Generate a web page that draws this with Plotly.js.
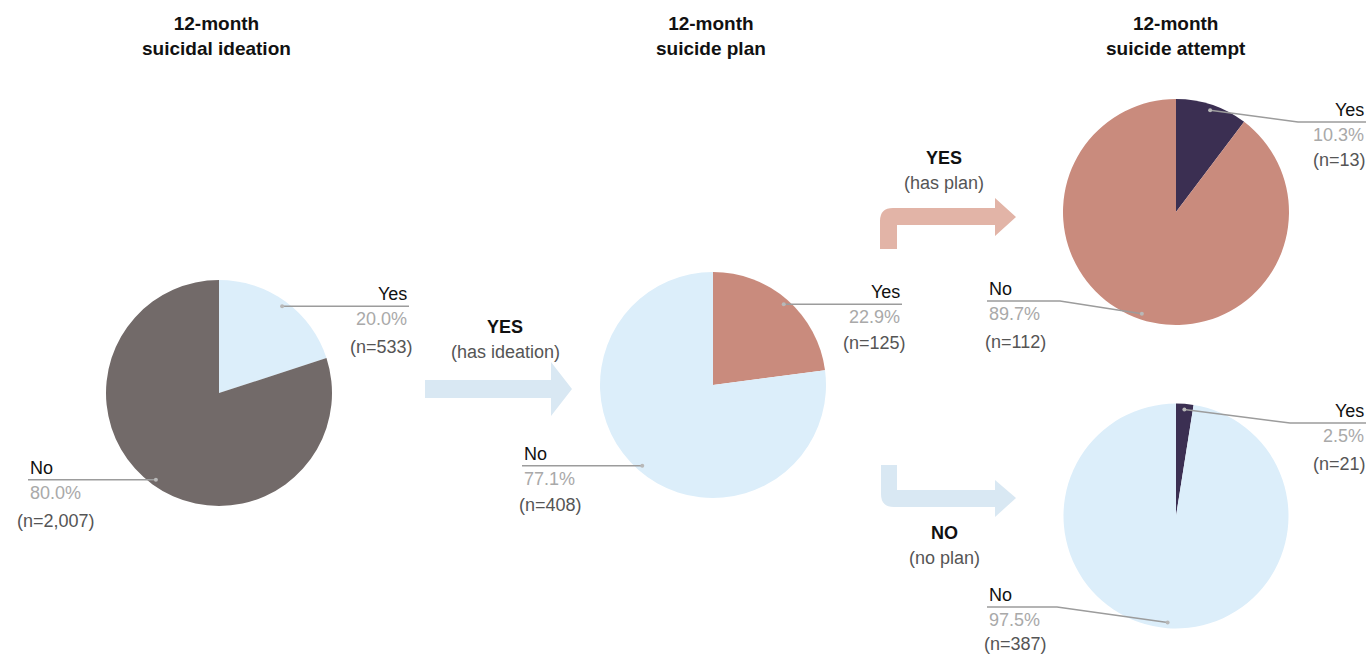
<!DOCTYPE html>
<html>
<head>
<meta charset="utf-8">
<script src="https://cdn.plot.ly/plotly-3.0.1.min.js"></script>
<style>
html,body{margin:0;padding:0;background:#fff;}
#chart{width:1371px;height:656px;}
</style>
</head>
<body>
<div id="chart"></div>
<script>
// ---- data ----
const sliceLabels = ['Yes', 'No'];
const ideationPct = [20.0, 80.0];
const ideationN = [533, 2007];
const planPct = [22.9, 77.1];
const planN = [125, 408];
const attemptWithPlanPct = [10.3, 89.7];
const attemptWithPlanN = [13, 112];
const attemptNoPlanPct = [2.5, 97.5];
const attemptNoPlanN = [21, 387];
const columnTitles = ['12-month<br>suicidal ideation', '12-month<br>suicide plan', '12-month<br>suicide attempt'];
const flowLabels = [['YES', '(has ideation)'], ['YES', '(has plan)'], ['NO', '(no plan)']];

// ---- layout helpers ----
const W = 1371, H = 656;
const px = x => x / W;
const py = y => 1 - y / H;

const C = {
  dark: '#726a69', light: '#dceefa', salmon: '#c98b7d', navy: '#3b2f52',
  arrowBlue: '#d9e8f3', arrowSalmon: '#e2b4a7',
  pct: '#a9a9a9', n: '#555555', lab: '#111111', leader: '#9c9c9c'
};

const pies = [
  {vals: ideationPct, ns: ideationN, cx: 219, cy: 393, r: 113, colors: [C.light, C.dark],
   lab: [
     {side: 'right', x: 409, lineY: 306, nDy: 41},
     {side: 'left', x: 28, lineY: 480, nDy: 41}
   ]},
  {vals: planPct, ns: planN, cx: 713, cy: 385, r: 113, colors: [C.salmon, C.light],
   lab: [
     {side: 'right', x: 902, lineY: 303, nDy: 39},
     {side: 'left', x: 522, lineY: 466, nDy: 39}
   ]},
  {vals: attemptWithPlanPct, ns: attemptWithPlanN, cx: 1176, cy: 212, r: 113, colors: [C.navy, C.salmon],
   lab: [
     {side: 'right', x: 1366, lineY: 122, bend: 1298, nDy: 38},
     {side: 'left', x: 987, lineY: 301, bend: 1060, nDy: 41}
   ]},
  {vals: attemptNoPlanPct, ns: attemptNoPlanN, cx: 1176, cy: 516, r: 112.5, colors: [C.navy, C.light],
   lab: [
     {side: 'right', x: 1366, lineY: 423, bend: 1290, nDy: 41},
     {side: 'left', x: 987, lineY: 607, bend: 1057, nDy: 37}
   ]}
];

const traces = [];
const shapes = [];
const annotations = [];
const FONT = 'Liberation Sans, Arial, sans-serif';

function ann(text, x, y, xanchor, size, color, bold) {
  annotations.push({
    text: bold ? '<b>' + text + '</b>' : text,
    xref: 'paper', yref: 'paper', x: px(x), y: py(y),
    xanchor: xanchor, yanchor: 'middle', showarrow: false,
    font: {family: FONT, size: size, color: color}
  });
}

function polyPath(pts) {
  return pts.map((p, i) => (i ? 'L' : 'M') + px(p[0]) + ',' + py(p[1])).join(' ');
}

pies.forEach(p => {
  traces.push({
    type: 'pie', values: p.vals, labels: sliceLabels, sort: false,
    direction: 'clockwise', rotation: 0, textinfo: 'none', hoverinfo: 'skip',
    marker: {colors: p.colors, line: {width: 0}},
    domain: {x: [px(p.cx - p.r), px(p.cx + p.r)], y: [py(p.cy + p.r), py(p.cy - p.r)]},
    showlegend: false
  });
  const total = p.vals.reduce((a, b) => a + b, 0);
  let start = 0;
  p.vals.forEach((v, i) => {
    const frac = v / total;
    const mid = (start + frac / 2) * 2 * Math.PI;
    start += frac;
    const rr = p.r * 0.95;
    const ax = p.cx + rr * Math.sin(mid);
    const ay = p.cy - rr * Math.cos(mid);
    const L = p.lab[i];
    let pts;
    if (L.bend) pts = [[ax, ay], [L.bend, L.lineY], [L.x, L.lineY]];
    else pts = [[ax, ay], [L.x, ay]];
    shapes.push({type: 'path', xref: 'paper', yref: 'paper', path: polyPath(pts),
      line: {color: C.leader, width: 1.5}});
    shapes.push({type: 'circle', xref: 'paper', yref: 'paper',
      x0: px(ax - 2), x1: px(ax + 2), y0: py(ay + 2), y1: py(ay - 2),
      fillcolor: '#b8b8b8', line: {width: 0}});
    const ly = L.bend ? L.lineY : ay;
    const pctTxt = v.toFixed(1) + '%';
    const nTxt = '(n=' + p.ns[i].toLocaleString('en-US') + ')';
    if (L.side === 'right') {
      ann(sliceLabels[i], L.x, ly - 12, 'right', 18, C.lab);
      ann(pctTxt, L.x, ly + 13, 'right', 18, C.pct);
      ann(nTxt, L.x - 27, ly + L.nDy, 'center', 18, C.n);
    } else {
      ann(sliceLabels[i], L.x, ly - 12, 'left', 18, C.lab);
      ann(pctTxt, L.x, ly + 13, 'left', 18, C.pct);
      ann(nTxt, L.x + 28, ly + L.nDy, 'center', 18, C.n);
    }
  });
});

// column titles
[216, 711, 1176].forEach((x, i) => {
  annotations.push({
    text: '<b>' + columnTitles[i] + '</b>', xref: 'paper', yref: 'paper',
    x: px(x), y: py(36), xanchor: 'center', yanchor: 'middle', showarrow: false,
    align: 'center', font: {family: FONT, size: 19, color: '#111'}
  });
});

// flow arrows
function pathStr(cmds) {
  return cmds.map(c => {
    if (c[0] === 'Z') return 'Z';
    if (c[0] === 'Q') return 'Q' + px(c[1]) + ',' + py(c[2]) + ' ' + px(c[3]) + ',' + py(c[4]);
    return c[0] + px(c[1]) + ',' + py(c[2]);
  }).join(' ');
}
shapes.push({type: 'path', xref: 'paper', yref: 'paper', fillcolor: C.arrowBlue, line: {width: 0},
  path: pathStr([['M', 425, 380], ['L', 551, 380], ['L', 551, 362], ['L', 572, 389], ['L', 551, 416], ['L', 551, 398], ['L', 425, 398], ['Z']])});
shapes.push({type: 'path', xref: 'paper', yref: 'paper', fillcolor: C.arrowSalmon, line: {width: 0},
  path: pathStr([['M', 880, 249], ['L', 880, 221], ['Q', 880, 208, 893, 208], ['L', 995, 208], ['L', 995, 198], ['L', 1016, 217], ['L', 995, 236], ['L', 995, 225], ['L', 897, 225], ['L', 897, 249], ['Z']])});
shapes.push({type: 'path', xref: 'paper', yref: 'paper', fillcolor: C.arrowBlue, line: {width: 0},
  path: pathStr([['M', 881, 465], ['L', 897, 465], ['L', 897, 490], ['L', 995, 490], ['L', 995, 480], ['L', 1016, 498], ['L', 995, 517], ['L', 995, 507], ['L', 894, 507], ['Q', 881, 507, 881, 494], ['Z']])});

// flow labels
[[505, 327], [944, 158], [944, 533]].forEach((pos, i) => {
  ann(flowLabels[i][0], pos[0], pos[1], 'center', 18, '#111', true);
  ann(flowLabels[i][1], pos[0], pos[1] + 25, 'center', 18, C.n);
});

Plotly.newPlot('chart', traces, {
  width: W, height: H, margin: {l: 0, r: 0, t: 0, b: 0},
  paper_bgcolor: '#fff', plot_bgcolor: '#fff', showlegend: false,
  font: {family: FONT},
  shapes: shapes, annotations: annotations
}, {displayModeBar: false, staticPlot: true});
</script>
</body>
</html>
